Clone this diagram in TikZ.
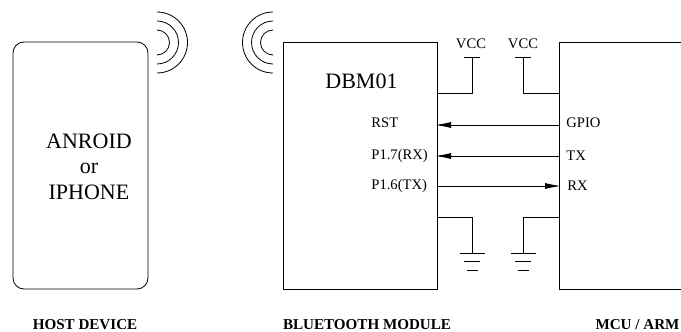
\documentclass[tikz,border=0pt]{standalone}
\usepackage{fontspec}
\setmainfont{Liberation Serif}
\usetikzlibrary{arrows.meta}
\begin{document}
\begin{tikzpicture}[
    x=1pt, y=-1pt,
    every path/.style={line width=0.8pt},
    big label/.style={font=\fontsize{22}{24}\selectfont, inner sep=0pt},
    pin label/.style={font=\fontsize{14.6}{16}\selectfont, inner sep=0pt},
    title label/.style={font=\fontsize{15.1}{17}\selectfont\bfseries, inner sep=0pt},
    signal/.style={line width=1pt, -{Latex[length=16pt,width=6pt]}},
    box/.style={draw, minimum width=154pt, minimum height=247pt, inner sep=0pt}
    ]
    \useasboundingbox (0,0) rectangle (681,332);
    % Boxes
    \node[box, rounded corners=11pt, minimum width=135pt] (host) at (80.5,165.5) {};
    \node[box] (module) at (360,165.5) {};
    \coordinate (mcutopleft) at (559,42);
    \coordinate (mcubottomleft) at (559,289);
    \coordinate (mcutopright) at (681,42);
    \coordinate (mcubottomright) at (681,289);
    \draw (mcutopright) -- (mcutopleft) -- (mcubottomleft) -- (mcubottomright);
    % Antennas
    \coordinate (hostwave) at (157,42.5);
    \coordinate (modulewave) at (273,42.5);
    \foreach \r in {12.5,21.5,30.5}{
      \draw ([yshift=\r pt]hostwave) arc[start angle=90, end angle=-90, radius=\r pt];
      \draw ([yshift=\r pt]modulewave) arc[start angle=90, end angle=270, radius=\r pt];
    }
    % Box texts
    \node[big label] (anroid) at (89,141) {ANROID};
    \node[big label] (or) at (89,168) {or};
    \node[big label] (iphone) at (89,192) {IPHONE};
    \node[big label, anchor=west] (dbm) at (325,81) {DBM01};
    % Signals
    \node[pin label, anchor=west] (rst) at (371,123) {RST};
    \node[pin label, anchor=west] (p17) at (371,156) {P1.7(RX)};
    \node[pin label, anchor=west] (p16) at (371,185.5) {P1.6(TX)};
    \node[pin label, anchor=west] (gpio) at (566,123) {GPIO};
    \node[pin label, anchor=west] (tx) at (566,156) {TX};
    \node[pin label, anchor=west] (rx) at (567,186) {RX};
    \coordinate (rstin) at (435,125);
    \coordinate (gpioout) at (559,125);
    \coordinate (p17in) at (435,156);
    \coordinate (txout) at (559,156);
    \coordinate (p16out) at (437,186);
    \coordinate (rxin) at (561,186);
    \draw[signal] (gpioout) -- (rstin);
    \draw[signal] (txout) -- (p17in);
    \draw[signal] (p16out) -- (rxin);
    % VCC
    \node[pin label] (vcca) at (471,44) {VCC};
    \node[pin label] (vccb) at (523,44) {VCC};
    \foreach \name/\side/\xpos in {a/437/472, b/559/523}{
      \coordinate (vccin\name) at (\side,93);
      \coordinate (vcctop\name) at (\xpos,57);
      \draw (vccin\name) -| (vcctop\name);
      \draw ([xshift=-8pt]vcctop\name) -- ([xshift=8pt]vcctop\name);
    }
    % Ground
    \foreach \name/\side/\xpos in {a/437/472, b/559/523}{
      \coordinate (gndin\name) at (\side,217);
      \coordinate (gndtop\name) at (\xpos,253);
      \draw (gndin\name) -| (gndtop\name);
      \draw ([xshift=-12.5pt]gndtop\name) -- ([xshift=12.5pt]gndtop\name);
      \draw ([xshift=-8pt,yshift=-8pt]gndtop\name) -- ([xshift=8pt,yshift=-8pt]gndtop\name);
      \draw ([xshift=-5.5pt,yshift=-17pt]gndtop\name) -- ([xshift=5.5pt,yshift=-17pt]gndtop\name);
    }
    % Titles
    \node[title label] (hosttitle) at (85,325) {HOST DEVICE};
    \node[title label] (moduletitle) at (367,325) {BLUETOOTH MODULE};
    \node[title label] (mcutitle) at (637.5,325) {MCU / ARM};
\end{tikzpicture}
\end{document}
